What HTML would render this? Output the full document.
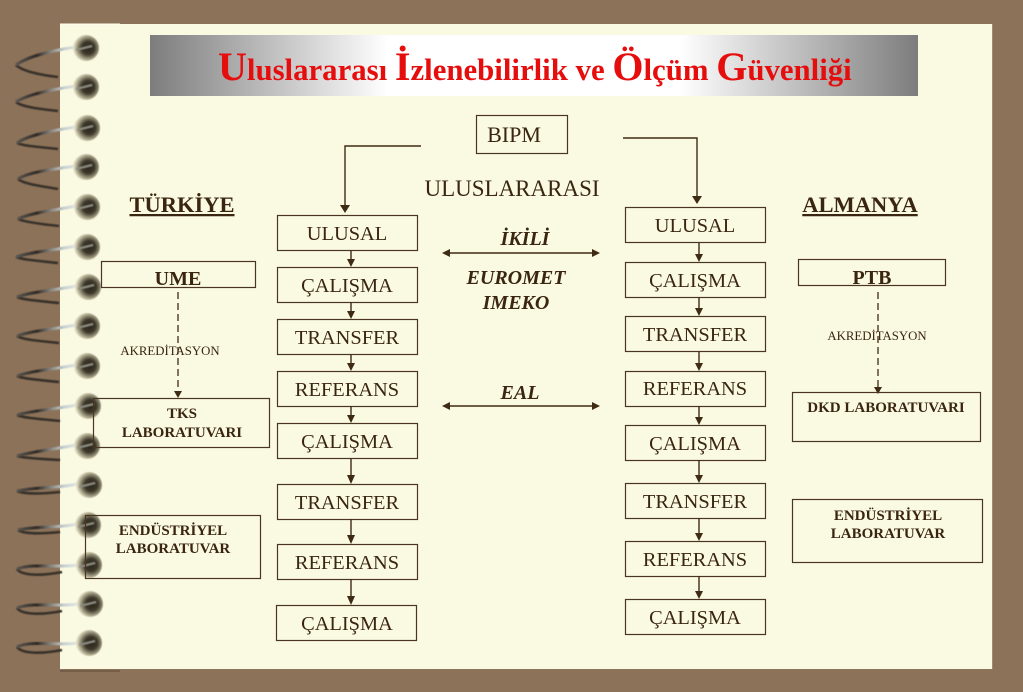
<!DOCTYPE html>
<html lang="tr"><head><meta charset="utf-8"><title>Uluslararası İzlenebilirlik ve Ölçüm Güvenliği</title>
<style>
html,body{margin:0;padding:0;background:#8c7259;width:1023px;height:692px;overflow:hidden}
svg{display:block}
text{font-family:"Liberation Serif",serif;fill:#3a2510}
.b{font-size:20.4px;text-anchor:middle}
.h{font-size:22.5px;font-weight:bold;text-anchor:middle;text-decoration:underline}
.s{font-size:15px;font-weight:bold;text-anchor:middle}
.i{font-size:20px;font-weight:bold;font-style:italic;text-anchor:middle}
.a{font-size:12.8px;text-anchor:middle}
.r{fill:none;stroke:#4a3620;stroke-width:1.2}
.l{fill:none;stroke:#3f2a14;stroke-width:1.4}
.d{fill:none;stroke:#3f2a14;stroke-width:1.3;stroke-dasharray:7 4}
.t{font-weight:bold;fill:#e60d0d;font-size:30.8px}
.t tspan{font-size:40px}
.up{fill:none;stroke:url(#w);stroke-width:3}
.lo{fill:none;stroke:#37302a;stroke-width:2.6}
</style></head><body>
<svg width="1023" height="692" viewBox="0 0 1023 692" xmlns="http://www.w3.org/2000/svg">
<defs>
<linearGradient id="g" x1="0" x2="1" y1="0" y2="0">
<stop offset="0" stop-color="#7d7d7d"/><stop offset=".31" stop-color="#fff"/><stop offset=".69" stop-color="#fff"/><stop offset="1" stop-color="#7d7d7d"/>
</linearGradient>
<radialGradient id="ball" cx=".58" cy=".5" r=".55">
<stop offset="0" stop-color="#2a2519"/><stop offset=".45" stop-color="#3d382b"/><stop offset=".72" stop-color="#8f8a72"/><stop offset=".92" stop-color="#cdc8ac"/><stop offset="1" stop-color="#e2dfc6"/>
</radialGradient>
<linearGradient id="w" gradientUnits="userSpaceOnUse" x1="16" x2="76" y1="0" y2="0">
<stop offset="0" stop-color="#5c5852"/><stop offset=".35" stop-color="#2f2a25"/><stop offset=".6" stop-color="#8e8c86"/><stop offset=".8" stop-color="#c8d0d0"/><stop offset="1" stop-color="#dfe4e2"/>
</linearGradient>
<filter id="bl" x="-20%" y="-20%" width="140%" height="140%"><feGaussianBlur stdDeviation=".55"/></filter>
</defs>

<rect x="60" y="24" width="932" height="645" fill="#fafae3"/>
<path d="M60 24H120" stroke="#fdfdf0" stroke-width="1"/>
<path d="M60 671H120" stroke="#5e4a36" stroke-width="1"/>
<rect x="992" y="24" width="1" height="645" fill="#a08a72"/>

<!-- spiral rings -->
<g filter="url(#bl)">
<path class="lo" d="M16 65C22 71 40 75 58 77"/><path class="up" d="M76 47C55 50 28 56 16 65"/>
<path class="lo" d="M16 102C22 107 40 109 58 111"/><path class="up" d="M76 86C55 89 28 94 16 102"/>
<path class="lo" d="M17 143C23 146 40 147 58 149"/><path class="up" d="M76 127C55 130 28 135 17 143"/>
<path class="lo" d="M18 179C24 184 40 186 58 189"/><path class="up" d="M76 166C55 169 28 172 18 179"/>
<path class="lo" d="M18 219C24 222 40 224 59 226"/><path class="up" d="M76 206C55 210 30 213 18 219"/>
<path class="lo" d="M16 257C24 260 40 261 58 263"/><path class="up" d="M76 246C55 250 30 252 16 257"/>
<path class="lo" d="M17 297C24 300 40 301 59 303"/><path class="up" d="M77 286C55 290 30 292 17 297"/>
<path class="lo" d="M17 336C24 340 40 341 59 343"/><path class="up" d="M76 325C55 329 30 331 17 336"/>
<path class="lo" d="M17 376C24 379 40 380 59 382"/><path class="up" d="M76 365C55 369 30 371 17 376"/>
<path class="lo" d="M17 415C24 418 40 419 60 421"/><path class="up" d="M77 405C55 409 30 411 17 415"/>
<path class="lo" d="M17 456C24 458 40 459 60 460"/><path class="up" d="M76 445C55 449 30 452 17 456"/>
<path class="lo" d="M17 491C24 494 40 494 60 492"/><path class="up" d="M77 484C62 488 35 487 17 491"/>
<path class="lo" d="M18 530C24 534 40 534 60 532"/><path class="up" d="M77 524C62 528 35 526 18 530"/>
<path class="lo" d="M17 569C22 576 42 576 62 572"/><path class="up" d="M78 565C60 568 30 563 17 569"/>
<path class="lo" d="M17 608C22 615 42 615 62 611"/><path class="up" d="M78 604C60 607 30 602 17 608"/>
<path class="lo" d="M17 647C22 654 42 654 62 650"/><path class="up" d="M78 643C60 646 30 640 17 647"/>
</g>
<g filter="url(#bl)">
<circle cx="86" cy="48" r="13" fill="url(#ball)"/><circle cx="86" cy="87" r="13" fill="url(#ball)"/><circle cx="87" cy="128" r="13" fill="url(#ball)"/><circle cx="86" cy="167" r="13" fill="url(#ball)"/>
<circle cx="87" cy="207" r="13" fill="url(#ball)"/><circle cx="87" cy="247" r="13" fill="url(#ball)"/><circle cx="88" cy="287" r="13" fill="url(#ball)"/><circle cx="87" cy="326" r="13" fill="url(#ball)"/>
<circle cx="87" cy="366" r="13" fill="url(#ball)"/><circle cx="88" cy="406" r="13" fill="url(#ball)"/><circle cx="87" cy="446" r="13" fill="url(#ball)"/><circle cx="89" cy="485" r="13" fill="url(#ball)"/>
<circle cx="88" cy="525" r="13" fill="url(#ball)"/><circle cx="89" cy="565" r="13" fill="url(#ball)"/><circle cx="90" cy="604" r="13" fill="url(#ball)"/><circle cx="89" cy="643" r="13" fill="url(#ball)"/>
<path fill="none" stroke="#8a8a7e" stroke-width="2" d="M76 50L92 46M76 89L92 85M77 130L93 126M76 169L92 165M77 209L93 205M77 249L93 245M78 289L94 285M77 328L93 324M77 368L93 364M78 408L94 404M77 448L93 444M79 487L95 483M78 527L94 523M79 567L95 563M80 606L96 602M79 645L95 641"/>
</g>

<!-- title -->
<rect x="150" y="35" width="768" height="61" fill="url(#g)"/>
<text class="t" x="218" y="80"><tspan>U</tspan>luslararası <tspan>İ</tspan>zlenebilirlik ve <tspan>Ö</tspan>lçüm <tspan>G</tspan>üvenliği</text>

<!-- top -->
<rect class="r" x="476.5" y="115.5" width="91" height="38"/>
<text class="b" x="514" y="142" style="font-size:22px">BIPM</text>
<text class="b" x="512" y="196" style="font-size:23px">ULUSLARARASI</text>
<path class="l" d="M421 146H345V207"/>
<path d="M340 205h10l-5 8z" fill="#3f2a14"/>
<path class="l" d="M623 138H697V198"/>
<path d="M692 196h10l-5 8z" fill="#3f2a14"/>

<text class="h" x="182" y="212">TÜRKİYE</text>
<text class="h" x="860" y="212">ALMANYA</text>

<!-- left column -->
<rect class="r" x="277.5" y="215.5" width="140" height="35"/>
<rect class="r" x="277.5" y="267.5" width="140" height="35"/>
<rect class="r" x="277.5" y="319.5" width="140" height="35"/>
<rect class="r" x="277.5" y="371.5" width="140" height="35"/>
<rect class="r" x="277.5" y="423.5" width="140" height="35"/>
<rect class="r" x="277.5" y="484.5" width="140" height="35"/>
<rect class="r" x="277.5" y="544.5" width="140" height="35"/>
<rect class="r" x="276.5" y="605.5" width="140" height="35"/>
<text class="b" x="347" y="240">ULUSAL</text>
<text class="b" x="347" y="292">ÇALIŞMA</text>
<text class="b" x="347" y="344">TRANSFER</text>
<text class="b" x="347" y="396">REFERANS</text>
<text class="b" x="347" y="448">ÇALIŞMA</text>
<text class="b" x="347" y="509">TRANSFER</text>
<text class="b" x="347" y="569">REFERANS</text>
<text class="b" x="347" y="630">ÇALIŞMA</text>
<path class="l" d="M351 250V260M351 302V312M351 354V364M351 406V416M351 458V476M351 519V536M351 579V597"/>
<path fill="#3f2a14" d="M347 259h8l-4 8zM347 311h8l-4 8zM347 363h8l-4 8zM347 415h8l-4 8zM347 475h8l-4 9zM347 535h8l-4 9zM347 596h8l-4 9z"/>

<!-- right column -->
<rect class="r" x="625.5" y="207.5" width="140" height="35"/>
<rect class="r" x="625.5" y="262.5" width="140" height="35"/>
<rect class="r" x="625.5" y="316.5" width="140" height="35"/>
<rect class="r" x="625.5" y="371.5" width="140" height="35"/>
<rect class="r" x="625.5" y="425.5" width="140" height="35"/>
<rect class="r" x="625.5" y="483.5" width="140" height="35"/>
<rect class="r" x="625.5" y="541.5" width="140" height="35"/>
<rect class="r" x="625.5" y="599.5" width="140" height="35"/>
<text class="b" x="695" y="232">ULUSAL</text>
<text class="b" x="695" y="287">ÇALIŞMA</text>
<text class="b" x="695" y="341">TRANSFER</text>
<text class="b" x="695" y="395">REFERANS</text>
<text class="b" x="695" y="450">ÇALIŞMA</text>
<text class="b" x="695" y="508">TRANSFER</text>
<text class="b" x="695" y="566">REFERANS</text>
<text class="b" x="695" y="624">ÇALIŞMA</text>
<path class="l" d="M699 243V255M699 297V309M699 351V364M699 406V418M699 460V476M699 518V534M699 576V592"/>
<path fill="#3f2a14" d="M695 254h8l-4 8zM695 308h8l-4 8zM695 363h8l-4 8zM695 417h8l-4 8zM695 475h8l-4 8zM695 533h8l-4 8zM695 591h8l-4 8z"/>

<!-- centre -->
<text class="i" x="525" y="245">İKİLİ</text>
<text class="i" x="516" y="284">EUROMET</text>
<text class="i" x="516" y="309">IMEKO</text>
<text class="i" x="520" y="399">EAL</text>
<path class="l" d="M448 253H594M448 406H594"/>
<path fill="#3f2a14" d="M442 253l8-4v8zM600 253l-8-4v8zM442 406l8-4v8zM600 406l-8-4v8z"/>

<!-- left side -->
<rect class="r" x="101.5" y="261.5" width="154" height="26"/>
<text class="h" x="178" y="285" style="font-size:20px;text-decoration:none">UME</text>
<path class="d" d="M178 292V392"/>
<path fill="#3f2a14" d="M174 391h8l-4 7z"/>
<text class="a" x="170" y="355">AKREDİTASYON</text>
<rect class="r" x="93.5" y="398.5" width="176" height="49"/>
<text class="s" x="182" y="418">TKS</text>
<text class="s" x="182" y="437">LABORATUVARI</text>
<rect class="r" x="85.5" y="515.5" width="175" height="63"/>
<text class="s" x="173" y="535">ENDÜSTRİYEL</text>
<text class="s" x="173" y="553">LABORATUVAR</text>

<!-- right side -->
<rect class="r" x="798.5" y="259.5" width="147" height="26"/>
<text class="h" x="872" y="284" style="font-size:20px;text-decoration:none">PTB</text>
<path class="d" d="M878 292V389"/>
<path fill="#3f2a14" d="M874 387h8l-4 7z"/>
<text class="a" x="877" y="340">AKREDİTASYON</text>
<rect class="r" x="792.5" y="392.5" width="188" height="49"/>
<text class="s" x="886" y="412">DKD LABORATUVARI</text>
<rect class="r" x="792.5" y="499.5" width="190" height="63"/>
<text class="s" x="888" y="520">ENDÜSTRİYEL</text>
<text class="s" x="888" y="538">LABORATUVAR</text>
</svg>
</body></html>
